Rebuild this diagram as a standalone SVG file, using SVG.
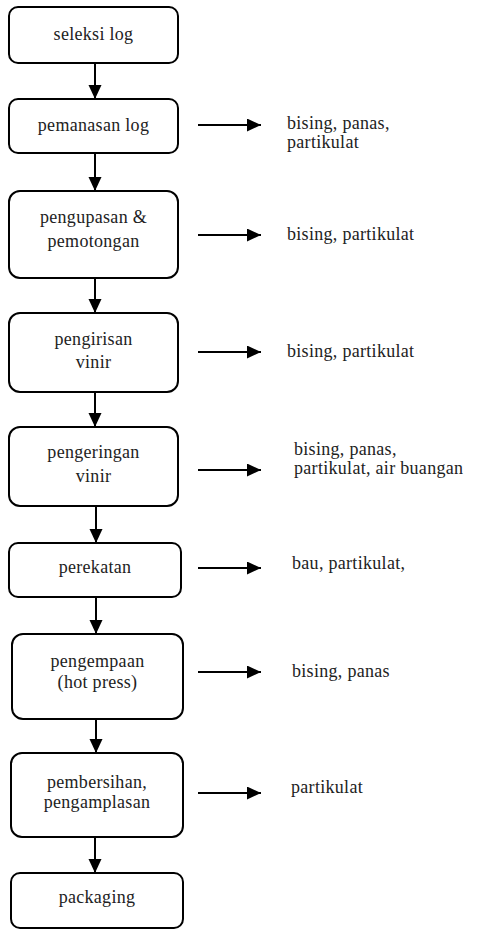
<svg xmlns="http://www.w3.org/2000/svg" width="477" height="930" viewBox="0 0 477 930">
<defs>
<marker id="ah" markerUnits="userSpaceOnUse" markerWidth="16" markerHeight="14" refX="14" refY="6.5" orient="auto">
<path d="M0,0 L14,6.5 L0,13 Z" fill="#000"/>
</marker>
</defs>
<style>
.box{fill:#fff;stroke:#000;stroke-width:2}
.ln{stroke:#000;stroke-width:2;fill:none;marker-end:url(#ah)}
</style>
<rect width="477" height="930" fill="#fff"/>
<g font-family="Liberation Serif" font-size="18" fill="#222" letter-spacing="0.3">
<g id="n1"><rect class="box" x="9" y="7" width="169" height="56" rx="9"/><text text-anchor="middle" x="93.5" y="40">seleksi log</text></g>
<g id="n2"><rect class="box" x="9" y="99" width="169" height="54" rx="9"/><text text-anchor="middle" x="93.5" y="131">pemanasan log</text></g>
<g id="n3"><rect class="box" x="9" y="191" width="169" height="87" rx="11"/><text text-anchor="middle" x="93.5" y="223">pengupasan &amp;</text><text text-anchor="middle" x="93.5" y="247">pemotongan</text></g>
<g id="n4"><rect class="box" x="9" y="313" width="169" height="79" rx="11"/><text text-anchor="middle" x="93.5" y="345">pengirisan</text><text text-anchor="middle" x="93.5" y="368">vinir</text></g>
<g id="n5"><rect class="box" x="9" y="427" width="169" height="79" rx="11"/><text text-anchor="middle" x="93.5" y="458">pengeringan</text><text text-anchor="middle" x="93.5" y="482">vinir</text></g>
<g id="n6"><rect class="box" x="9" y="543" width="172" height="54" rx="9"/><text text-anchor="middle" x="95" y="573">perekatan</text></g>
<g id="n7"><rect class="box" x="12" y="634" width="171" height="85" rx="11"/><text text-anchor="middle" x="97.5" y="667">pengempaan</text><text text-anchor="middle" x="97.5" y="688">(hot press)</text></g>
<g id="n8"><rect class="box" x="11" y="753" width="172" height="84" rx="11"/><text text-anchor="middle" x="97" y="788">pembersihan,</text><text text-anchor="middle" x="97" y="808">pengamplasan</text></g>
<g id="n9"><rect class="box" x="11" y="873" width="172" height="55" rx="9"/><text text-anchor="middle" x="97" y="903">packaging</text></g>
<g id="e1"><text x="287" y="129">bising, panas,</text><text x="287" y="148">partikulat</text></g>
<g id="e2"><text x="287" y="240">bising, partikulat</text></g>
<g id="e3"><text x="287" y="357">bising, partikulat</text></g>
<g id="e4"><text x="294" y="455">bising, panas,</text><text x="294" y="474">partikulat, air buangan</text></g>
<g id="e5"><text x="292" y="569">bau, partikulat,</text></g>
<g id="e6"><text x="292" y="677">bising, panas</text></g>
<g id="e7"><text x="291" y="793">partikulat</text></g>
</g>
<g id="connectors">
<line class="ln" x1="95" y1="63" x2="95" y2="99"/>
<line class="ln" x1="95" y1="153" x2="95" y2="191"/>
<line class="ln" x1="95" y1="278" x2="95" y2="313"/>
<line class="ln" x1="95" y1="392" x2="95" y2="427"/>
<line class="ln" x1="96" y1="506" x2="96" y2="543"/>
<line class="ln" x1="96" y1="597" x2="96" y2="634"/>
<line class="ln" x1="96" y1="719" x2="96" y2="753"/>
<line class="ln" x1="95" y1="837" x2="95" y2="873"/>
<line class="ln" x1="198" y1="125" x2="261" y2="125"/>
<line class="ln" x1="198" y1="235" x2="261" y2="235"/>
<line class="ln" x1="198" y1="352" x2="261" y2="352"/>
<line class="ln" x1="198" y1="470" x2="261" y2="470"/>
<line class="ln" x1="198" y1="568" x2="261" y2="568"/>
<line class="ln" x1="198" y1="672" x2="261" y2="672"/>
<line class="ln" x1="198" y1="793" x2="261" y2="793"/>
</g>
</svg>
